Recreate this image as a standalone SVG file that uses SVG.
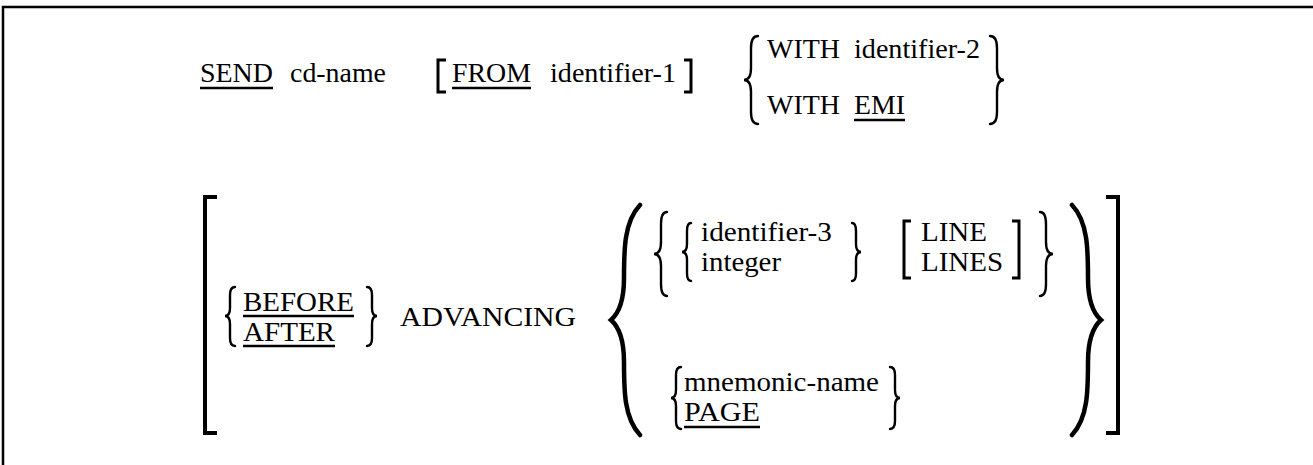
<svg xmlns="http://www.w3.org/2000/svg" width="1313" height="465" viewBox="0 0 1313 465">
<style>
.t{font-family:'Liberation Serif','Tinos','Times New Roman','Times','Nimbus Roman','DejaVu Serif',serif;fill:#000;font-size:28px}
.t2{font-size:27px}
.ul{stroke:#000;stroke-width:2.4;fill:none}
.br{stroke:#000;stroke-width:3;fill:none}
.bbk{stroke:#000;stroke-width:4;fill:none}
.bs{stroke:#000;stroke-width:2.4;fill:none;stroke-linecap:round}
.bb{stroke:#000;stroke-width:4.5;fill:none;stroke-linecap:round}
.frame{stroke:#000;stroke-width:2.5;fill:none}
</style>
<rect width="1313" height="465" fill="#fff"/>
<g id="frame"><path class="frame" d="M3 465 V7 H1313"/></g>
<g id="send-line">
<text class="t" x="200" y="82" textLength="73" lengthAdjust="spacingAndGlyphs">SEND</text><line class="ul" x1="200" y1="88" x2="273" y2="88"/>
<text class="t" x="290" y="82" textLength="96" lengthAdjust="spacingAndGlyphs">cd-name</text>
<path class="br" d="M446 60 H438 V92 H446"/>
<text class="t" x="452" y="82" textLength="79" lengthAdjust="spacingAndGlyphs">FROM</text><line class="ul" x1="452" y1="88" x2="531" y2="88"/>
<text class="t" x="550" y="82" textLength="126" lengthAdjust="spacingAndGlyphs">identifier-1</text>
<path class="br" d="M684 60 H691 V92 H684"/>
<path class="bs" d="M758 36 Q751 36 751 48 L751 68 Q751 80 744 80 Q751 80 751 92 L751 112 Q751 124 758 124"/>
<text class="t" x="767" y="58" textLength="73" lengthAdjust="spacingAndGlyphs">WITH</text>
<text class="t" x="854" y="58" textLength="126" lengthAdjust="spacingAndGlyphs">identifier-2</text>
<text class="t" x="767" y="114" textLength="73" lengthAdjust="spacingAndGlyphs">WITH</text>
<text class="t" x="854" y="114" textLength="51" lengthAdjust="spacingAndGlyphs">EMI</text><line class="ul" x1="854" y1="120" x2="905" y2="120"/>
<path class="bs" d="M990 36 Q997 36 997 48 L997 68 Q997 80 1004 80 Q997 80 997 92 L997 112 Q997 124 990 124"/>
</g>
<g id="advancing-line">
<path class="bbk" d="M217 197 H205 V433 H217"/>
<path class="bs" d="M235 287 Q230 287 230 295 L230 308 Q230 316 225 316 Q230 316 230 324 L230 338 Q230 346 235 346"/>
<text class="t t2" x="243" y="311" textLength="111" lengthAdjust="spacingAndGlyphs">BEFORE</text><line class="ul" x1="243" y1="316" x2="354" y2="316"/>
<text class="t t2" x="243" y="341" textLength="92" lengthAdjust="spacingAndGlyphs">AFTER</text><line class="ul" x1="243" y1="346" x2="335" y2="346"/>
<path class="bs" d="M367 287 Q372 287 372 295 L372 308 Q372 316 377 316 Q372 316 372 324 L372 338 Q372 346 367 346"/>
<text class="t" x="400" y="326" font-size="29" textLength="176" lengthAdjust="spacingAndGlyphs">ADVANCING</text>
<path class="bb" d="M640 205 C624 222 624 250 624 278 C624 300 619 313 611 320 C619 327 624 340 624 362 C624 390 624 418 640 435"/>
<path class="bs" d="M667 212 Q661 212 661 224 L661 242 Q661 254 654 254 Q661 254 661 266 L661 284 Q661 296 667 296"/>
<path class="bs" d="M691 223 Q687 223 687 231 L687 244 Q687 252 682 252 Q687 252 687 260 L687 273 Q687 281 691 281"/>
<text class="t t2" x="701" y="241" textLength="131" lengthAdjust="spacingAndGlyphs">identifier-3</text>
<text class="t t2" x="701" y="271" textLength="80" lengthAdjust="spacingAndGlyphs">integer</text>
<path class="bs" d="M852 223 Q856 223 856 231 L856 244 Q856 252 861 252 Q856 252 856 260 L856 273 Q856 281 852 281"/>
<path class="br" d="M911 221 H904 V278 H911"/>
<text class="t t2" x="921" y="241" textLength="66" lengthAdjust="spacingAndGlyphs">LINE</text>
<text class="t t2" x="921" y="271" textLength="82" lengthAdjust="spacingAndGlyphs">LINES</text>
<path class="br" d="M1012 221 H1019 V278 H1012"/>
<path class="bs" d="M1040 212 Q1046 212 1046 224 L1046 242 Q1046 254 1053 254 Q1046 254 1046 266 L1046 284 Q1046 296 1040 296"/>
<path class="bs" d="M681 367 Q676 367 676 375 L676 390 Q676 398 671 398 Q676 398 676 406 L676 421 Q676 429 681 429"/>
<text class="t t2" x="684" y="391" textLength="195" lengthAdjust="spacingAndGlyphs">mnemonic-name</text>
<text class="t t2" x="684" y="421" textLength="76" lengthAdjust="spacingAndGlyphs">PAGE</text><line class="ul" x1="684" y1="427" x2="760" y2="427"/>
<path class="bs" d="M890 367 Q895 367 895 375 L895 390 Q895 398 900 398 Q895 398 895 406 L895 421 Q895 429 890 429"/>
<path class="bb" d="M1072 205 C1088 222 1088 250 1088 278 C1088 300 1093 313 1101 320 C1093 327 1088 340 1088 362 C1088 390 1088 418 1072 435"/>
<path class="bbk" d="M1106 197 H1118 V433 H1106"/>
</g>
</svg>
